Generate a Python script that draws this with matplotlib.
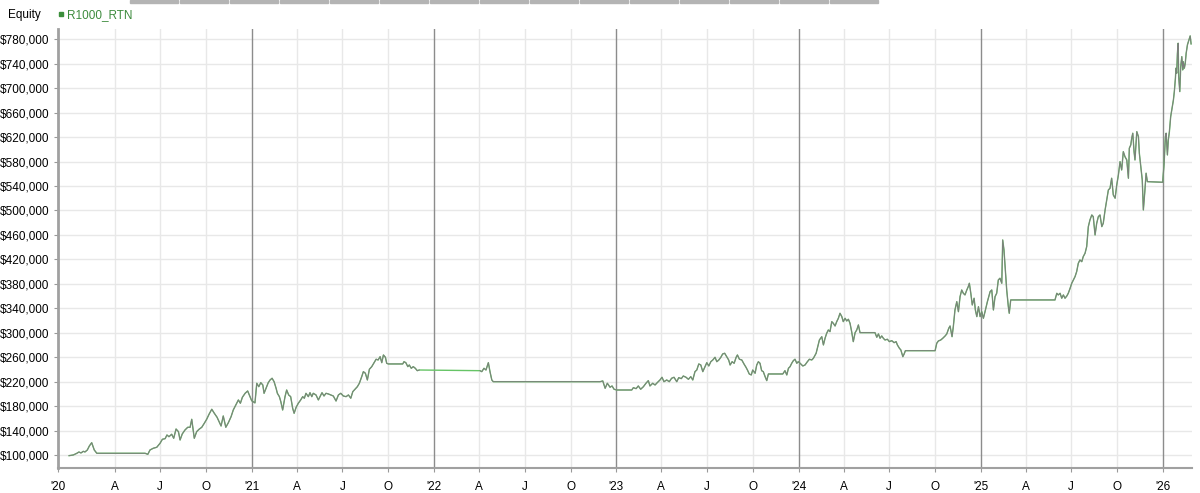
import matplotlib
matplotlib.use("Agg")
import matplotlib.pyplot as plt
import matplotlib.ticker as mticker
import numpy as np

plt.rcParams['font.family'] = ['Liberation Sans', 'DejaVu Sans']

# equity curve, time in fractional years, equity in $ thousands
years_2020 = [2019.996, 2020.019, 2020.038, 2020.050, 2020.061, 2020.074, 2020.083, 2020.096,
              2020.107, 2020.120, 2020.134, 2020.148, 2020.413, 2020.428, 2020.440, 2020.458,
              2020.477, 2020.495, 2020.508, 2020.523, 2020.533, 2020.544, 2020.559, 2020.570,
              2020.583, 2020.596, 2020.605, 2020.617, 2020.632, 2020.647, 2020.660, 2020.669,
              2020.683, 2020.696, 2020.709, 2020.724, 2020.738, 2020.751, 2020.764, 2020.779,
              2020.793, 2020.808, 2020.819, 2020.830, 2020.842, 2020.856, 2020.870, 2020.885,
              2020.897, 2020.911, 2020.925, 2020.936, 2020.947, 2020.962, 2020.976, 2020.989,
              2020.998]
equity_2020 = [98.9, 100.0, 102.7, 104.9, 103.3, 106.0, 104.9, 108.2,
               114.7, 120.1, 108.2, 102.8, 102.8, 101.1, 108.2, 111.0,
               112.6, 119.1, 125.7, 126.7, 132.7, 129.9, 133.9, 127.3,
               142.5, 138.1, 124.5, 134.4, 140.9, 145.3, 145.3, 158.4,
               127.3, 138.1, 142.0, 145.3, 151.9, 158.4, 166.6, 174.8,
               168.2, 161.7, 154.5, 147.4, 163.8, 145.3, 152.8, 162.7,
               173.6, 181.8, 190.0, 184.6, 194.4, 200.9, 204.7, 195.4,
               188.8]

years_2021 = [2021.016, 2021.026, 2021.037, 2021.048, 2021.059, 2021.066, 2021.077, 2021.089,
              2021.099, 2021.110, 2021.121, 2021.132, 2021.139, 2021.150, 2021.158, 2021.168,
              2021.181, 2021.190, 2021.201, 2021.212, 2021.223, 2021.231, 2021.242, 2021.254,
              2021.267, 2021.278, 2021.287, 2021.296, 2021.309, 2021.318, 2021.328, 2021.336,
              2021.351, 2021.364, 2021.373, 2021.384, 2021.395, 2021.406, 2021.419, 2021.432,
              2021.446, 2021.461, 2021.474, 2021.487, 2021.501, 2021.516, 2021.529, 2021.542,
              2021.553, 2021.565, 2021.578, 2021.589, 2021.602, 2021.611, 2021.622, 2021.633,
              2021.644, 2021.657, 2021.670, 2021.681, 2021.692, 2021.703, 2021.712, 2021.721,
              2021.732, 2021.739, 2021.748, 2021.827, 2021.834, 2021.844, 2021.855, 2021.863,
              2021.874, 2021.885, 2021.896, 2021.907, 2021.918]
equity_2021 = [185.2, 217.3, 211.7, 218.3, 214.5, 200.9, 209.1, 218.3,
               222.7, 225.5, 219.9, 209.1, 200.9, 195.4, 187.2, 173.6,
               195.4, 206.3, 198.2, 195.4, 176.4, 168.2, 178.0, 184.6,
               190.0, 195.4, 192.8, 200.9, 195.4, 201.9, 195.4, 200.9,
               198.2, 190.0, 195.4, 201.9, 196.5, 200.9, 199.8, 198.2,
               196.5, 188.3, 198.2, 200.9, 196.5, 195.4, 198.2, 192.8,
               203.6, 207.5, 211.7, 217.3, 228.1, 236.3, 233.7, 222.7,
               240.2, 244.5, 251.0, 256.6, 255.4, 260.8, 251.0, 263.6,
               259.8, 250.0, 248.9, 248.9, 252.6, 251.0, 244.5, 247.2,
               241.8, 244.5, 241.8, 237.9, 239.0]

years_2022 = [2022.251, 2022.261, 2022.273, 2022.284, 2022.297, 2022.306, 2022.316, 2022.324,
              2022.910, 2022.925, 2022.938, 2022.950, 2022.965, 2022.976, 2022.987]
equity_2022 = [237.9, 236.3, 241.8, 239.0, 251.0, 236.3, 222.7, 219.9,
               219.9, 221.1, 209.1, 217.3, 210.8, 212.9, 207.5]

years_2023 = [2023.002, 2023.084, 2023.093, 2023.108, 2023.120, 2023.133, 2023.148, 2023.162,
              2023.175, 2023.184, 2023.199, 2023.212, 2023.224, 2023.239, 2023.250, 2023.261,
              2023.276, 2023.290, 2023.303, 2023.316, 2023.331, 2023.342, 2023.356, 2023.367,
              2023.382, 2023.395, 2023.408, 2023.419, 2023.431, 2023.441, 2023.452, 2023.463,
              2023.474, 2023.486, 2023.496, 2023.507, 2023.518, 2023.529, 2023.541, 2023.551,
              2023.562, 2023.573, 2023.583, 2023.594, 2023.605, 2023.616, 2023.624, 2023.635,
              2023.646, 2023.657, 2023.664, 2023.675, 2023.688, 2023.700, 2023.711, 2023.719,
              2023.729, 2023.740, 2023.748, 2023.761, 2023.770, 2023.779, 2023.788, 2023.797,
              2023.806, 2023.816, 2023.825, 2023.834, 2023.913, 2023.925, 2023.935, 2023.944,
              2023.953, 2023.962, 2023.971, 2023.980, 2023.990, 2023.998]
equity_2023 = [206.3, 206.3, 210.1, 208.5, 212.9, 207.5, 211.7, 217.3,
               221.6, 212.9, 217.3, 214.5, 218.3, 222.7, 227.1, 219.9,
               222.7, 219.9, 225.5, 227.1, 219.9, 226.5, 224.9, 229.2,
               227.1, 223.8, 228.1, 222.7, 236.3, 239.0, 248.9, 247.2,
               236.3, 244.5, 251.0, 245.6, 252.6, 255.4, 259.8, 252.6,
               255.4, 259.8, 265.2, 266.4, 260.8, 255.4, 247.2, 252.6,
               250.0, 259.8, 263.6, 256.6, 255.4, 248.9, 243.5, 239.0,
               232.5, 230.9, 239.0, 233.7, 247.2, 252.6, 250.0, 237.9,
               236.3, 228.1, 221.6, 232.5, 232.5, 237.9, 230.9, 241.8,
               244.5, 250.0, 254.3, 256.6, 250.0, 252.6]

years_2024 = [2024.008, 2024.023, 2024.035, 2024.048, 2024.059, 2024.072, 2024.081, 2024.096,
              2024.103, 2024.114, 2024.127, 2024.136, 2024.145, 2024.154, 2024.163, 2024.172,
              2024.182, 2024.190, 2024.200, 2024.209, 2024.218, 2024.227, 2024.237, 2024.245,
              2024.255, 2024.264, 2024.273, 2024.282, 2024.291, 2024.300, 2024.310, 2024.319,
              2024.328, 2024.337, 2024.419, 2024.429, 2024.438, 2024.447, 2024.456, 2024.465,
              2024.474, 2024.487, 2024.498, 2024.511, 2024.524, 2024.535, 2024.542, 2024.553,
              2024.561, 2024.572, 2024.579, 2024.586, 2024.749, 2024.758, 2024.767, 2024.780,
              2024.791, 2024.804, 2024.813, 2024.824, 2024.831, 2024.842, 2024.849, 2024.858,
              2024.868, 2024.877, 2024.886, 2024.895, 2024.904, 2024.913, 2024.923, 2024.931,
              2024.937, 2024.945, 2024.953, 2024.963, 2024.970, 2024.978, 2024.987]
equity_2024 = [250.0, 245.6, 247.2, 252.6, 256.6, 255.4, 258.2, 266.4,
               274.6, 288.1, 293.5, 280.0, 290.9, 299.1, 304.5, 301.7,
               318.1, 315.5, 311.0, 318.1, 323.6, 331.8, 326.3, 318.1,
               323.6, 319.2, 322.0, 315.5, 301.7, 285.4, 300.1, 304.5,
               312.7, 300.1, 300.1, 292.6, 298.0, 290.9, 294.7, 290.9,
               288.1, 289.3, 285.4, 287.0, 283.7, 285.4, 280.0, 274.6,
               271.8, 260.8, 265.2, 270.6, 270.6, 282.7, 286.5, 288.1,
               290.9, 294.7, 298.0, 307.3, 311.0, 293.5, 309.9, 337.2,
               350.8, 334.4, 359.0, 369.9, 364.5, 361.8, 369.9, 375.3,
               380.9, 364.5, 345.4, 356.4, 337.2, 326.3, 342.6]

years_2025 = [2024.996, 2025.005, 2025.014, 2025.023, 2025.036, 2025.051, 2025.060, 2025.069,
              2025.078, 2025.087, 2025.096, 2025.105, 2025.115, 2025.120, 2025.127, 2025.133,
              2025.142, 2025.151, 2025.156, 2025.164, 2025.407, 2025.417, 2025.425, 2025.435,
              2025.444, 2025.453, 2025.462, 2025.472, 2025.480, 2025.490, 2025.499, 2025.508,
              2025.517, 2025.526, 2025.535, 2025.544, 2025.554, 2025.562, 2025.572, 2025.581,
              2025.590, 2025.599, 2025.609, 2025.617, 2025.627, 2025.636, 2025.645, 2025.654,
              2025.664, 2025.672, 2025.682, 2025.691, 2025.700, 2025.709, 2025.718, 2025.727,
              2025.737, 2025.746, 2025.755, 2025.764, 2025.773, 2025.782, 2025.791, 2025.801,
              2025.810, 2025.815, 2025.823, 2025.828, 2025.834, 2025.841, 2025.846, 2025.856,
              2025.865, 2025.870, 2025.878, 2025.886, 2025.892, 2025.900, 2025.907, 2025.914,
              2025.998]
equity_2025 = [326.3, 334.4, 323.6, 334.4, 350.8, 367.2, 369.9, 337.2,
               359.0, 364.5, 386.3, 389.1, 380.9, 451.7, 435.4, 408.1,
               369.9, 342.6, 331.8, 353.6, 353.6, 364.5, 361.8, 364.5,
               356.4, 361.8, 356.4, 360.1, 364.5, 372.7, 380.9, 386.3,
               391.7, 399.9, 413.6, 419.0, 416.2, 424.4, 430.0, 440.8,
               473.5, 484.5, 492.6, 489.9, 459.9, 479.1, 489.9, 492.6,
               473.5, 479.1, 500.8, 517.2, 533.5, 536.3, 552.7, 525.4,
               520.0, 541.7, 558.1, 579.8, 566.2, 596.2, 588.0, 582.6,
               552.7, 601.8, 607.2, 618.1, 626.3, 596.2, 582.6, 628.9,
               620.7, 593.6, 571.7, 549.9, 500.8, 530.8, 560.9, 547.1,
               546.1]

years_2026 = [2026.002, 2026.006, 2026.013, 2026.017, 2026.021, 2026.024, 2026.029, 2026.035,
              2026.042, 2026.048, 2026.057, 2026.062, 2026.068, 2026.071, 2026.075, 2026.079,
              2026.083, 2026.086, 2026.092, 2026.097, 2026.103, 2026.108, 2026.111, 2026.117,
              2026.122, 2026.127, 2026.134, 2026.141, 2026.149, 2026.154]
equity_2026 = [560.9, 577.2, 620.7, 626.3, 604.4, 590.8, 615.3, 628.9,
               653.5, 664.4, 680.8, 694.4, 716.3, 732.7, 724.5, 757.2,
               773.5, 718.9, 694.4, 735.3, 751.6, 729.9, 743.4, 732.7,
               740.8, 757.2, 771.0, 777.8, 785.5, 772.4]

# stretch shown only in green (no gray overlay)
green_only = (2021.918, 2022.251)

y_ticks = list(range(100000, 780001, 40000))
quarter_labels = ["A", "J", "O"]
quarter_fracs = [90 / 365, 181 / 365, 273 / 365]

years = np.array(years_2020 + years_2021 + years_2022 + years_2023 + years_2024 + years_2025 + years_2026)
equity = np.array(equity_2020 + equity_2021 + equity_2022 + equity_2023 + equity_2024 + equity_2025 + equity_2026) * 1000

x_left, x_right = 2019.935, 2026.159

fig = plt.figure(figsize=(12, 4.93), dpi=100)
ax = fig.add_axes([58 / 1200, 1 - 468 / 493, (1192 - 58) / 1200, (468 - 29) / 493])

# grid
for yv in y_ticks:
    ax.axhline(yv, color='#e8e8e8', lw=1, zorder=0)
xticks, xlabels = [x_left], ["'20"]
for yr in range(2020, 2027):
    if yr > 2020:
        xticks.append(yr)
        xlabels.append("'" + str(yr)[2:])
        ax.axvline(yr, color='#8c8c8c', lw=1, zorder=1)
    for frac, lab in zip(quarter_fracs, quarter_labels):
        if yr + frac < x_right:
            xticks.append(yr + frac)
            xlabels.append(lab)
            ax.axvline(yr + frac, color='#e8e8e8', lw=1, zorder=0)

# equity: green underneath, gray on top
ax.plot(years, equity, color='#66c466', lw=1.0, zorder=2)
before = years <= green_only[0]
after = years >= green_only[1]
ax.plot(years[before], equity[before], color='#7d7d7d', lw=0.7, zorder=3)
ax.plot(years[after], equity[after], color='#7d7d7d', lw=0.7, zorder=3)

ax.set_xlim(x_left, x_right)
ax.set_ylim(78700, 796800)
ax.set_yticks(y_ticks)
ax.yaxis.set_major_formatter(mticker.FuncFormatter(lambda v, p: f"${v:,.0f}"))
ax.set_xticks(xticks)
ax.set_xticklabels(xlabels)
ax.tick_params(axis='both', labelsize=8.5, colors='#999999', labelcolor='black', length=3)
ax.tick_params(axis='x', pad=6)
ax.tick_params(axis='y', pad=3)

for side in ['top', 'right']:
    ax.spines[side].set_visible(False)
ax.spines['left'].set_color('#a0a0a0')
ax.spines['left'].set_linewidth(2)
ax.spines['bottom'].set_color('#a0a0a0')
ax.spines['bottom'].set_linewidth(1.5)

# header
fig.text(8 / 1200, 1 - 15 / 493, "Equity", fontsize=8.5, va='center')
fig.add_artist(plt.Rectangle((59 / 1200, 1 - 16 / 493), 4 / 1200, 4 / 493,
                             transform=fig.transFigure, color='#3c8f3c'))
fig.text(67 / 1200, 1 - 15 / 493, "R1000_RTN", fontsize=8.5, va='center', color='#3d8b3d')

# tab strip along the top edge
for i in range(15):
    x0 = 130 + i * 50
    fig.add_artist(plt.Rectangle((x0 / 1200, 1 - 3 / 493), 48 / 1200, 3 / 493,
                                 transform=fig.transFigure, color='#b4b4b4'))

fig.savefig("out.png", dpi=100)
